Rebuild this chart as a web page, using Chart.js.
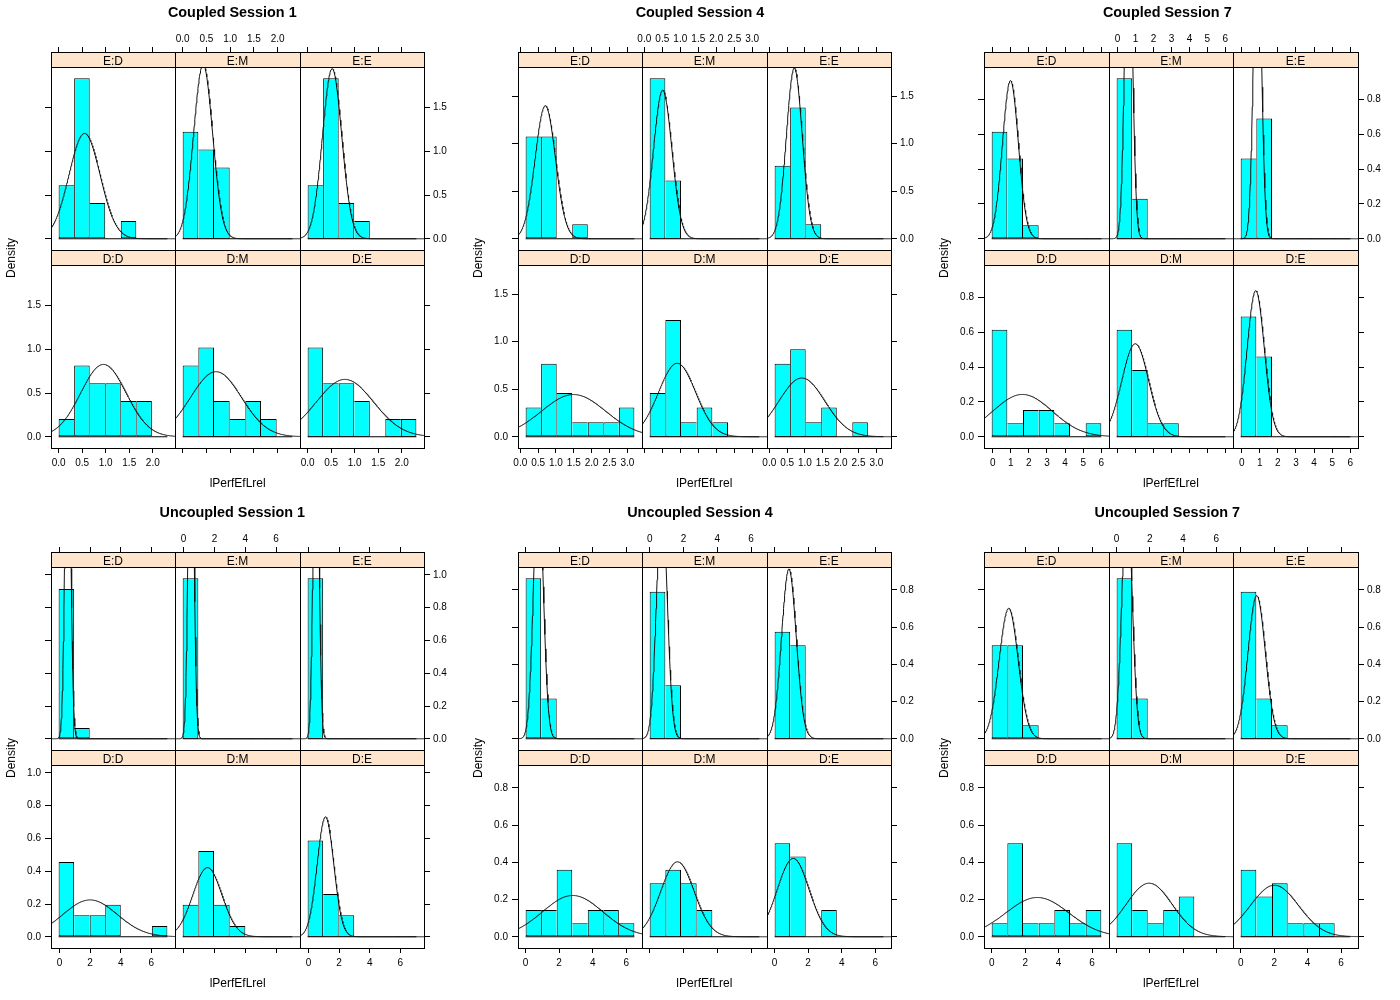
<!DOCTYPE html>
<html>
<head>
<meta charset="utf-8">
<script src="https://cdn.jsdelivr.net/npm/chart.js"></script>
<style>
  html, body { margin: 0; padding: 0; background: #fff; }
  body { width: 1400px; height: 1000px; position: relative; overflow: hidden;
         font-family: 'Liberation Sans', Arial, Helvetica, sans-serif; }
  canvas { position: absolute; }
  .t { position: absolute; white-space: nowrap; line-height: 1; color: #000; }
</style>
</head>
<body>
<script>
// ---------------- data ----------------
const sessionTitles = ['Coupled Session 1', 'Coupled Session 4', 'Coupled Session 7',
                       'Uncoupled Session 1', 'Uncoupled Session 4', 'Uncoupled Session 7'];
const panelNames = ['E:D', 'E:M', 'E:E', 'D:D', 'D:M', 'D:E'];
const xAxisTitle = 'lPerfEfLrel';
const yAxisTitle = 'Density';

// histogram breaks: first break and bin width per session (7 bins each)
const binStart = [0, 0.149, -0.055, -0.06, 0, 0];
const binWidth = [0.33, 0.4355, 0.8654, 1.0157, 0.927, 0.9355];

const xTickLabels = [
  ['0.0', '0.5', '1.0', '1.5', '2.0'],
  ['0.0', '0.5', '1.0', '1.5', '2.0', '2.5', '3.0'],
  ['0', '1', '2', '3', '4', '5', '6'],
  ['0', '2', '4', '6'],
  ['0', '2', '4', '6'],
  ['0', '2', '4', '6']
];
const yTickLabels = [
  ['0.0', '0.5', '1.0', '1.5'],
  ['0.0', '0.5', '1.0', '1.5'],
  ['0.0', '0.2', '0.4', '0.6', '0.8'],
  ['0.0', '0.2', '0.4', '0.6', '0.8', '1.0'],
  ['0.0', '0.2', '0.4', '0.6', '0.8'],
  ['0.0', '0.2', '0.4', '0.6', '0.8']
];

// bar densities, panels in order E:D, E:M, E:E, D:D, D:M, D:E
const densityC1 = [
  [0.612, 1.836, 0.408, 0, 0.204, 0, 0],
  [1.224, 1.02, 0.816, 0, 0, 0, 0],
  [0.612, 1.836, 0.408, 0.204, 0, 0, 0],
  [0.204, 0.816, 0.612, 0.612, 0.408, 0.408, 0],
  [0.816, 1.02, 0.408, 0.204, 0.408, 0.204, 0],
  [1.02, 0.612, 0.612, 0.408, 0, 0.204, 0.204]
];
const densityC4 = [
  [1.075, 1.075, 0, 0.154, 0, 0, 0],
  [1.689, 0.614, 0, 0, 0, 0, 0],
  [0.768, 1.382, 0.154, 0, 0, 0, 0],
  [0.307, 0.768, 0.461, 0.154, 0.154, 0.154, 0.307],
  [0.461, 1.228, 0.154, 0.307, 0.154, 0, 0],
  [0.768, 0.921, 0.154, 0.307, 0, 0.154, 0]
];
const densityC7 = [
  [0.615, 0.461, 0.077, 0, 0, 0, 0],
  [0.922, 0.230, 0, 0, 0, 0, 0],
  [0.461, 0.691, 0, 0, 0, 0, 0],
  [0.615, 0.077, 0.154, 0.154, 0.077, 0, 0.077],
  [0.615, 0.384, 0.077, 0.077, 0, 0, 0],
  [0.691, 0.461, 0, 0, 0, 0, 0]
];
const densityU1 = [
  [0.915, 0.065, 0, 0, 0, 0, 0],
  [0.98, 0, 0, 0, 0, 0, 0],
  [0.98, 0, 0, 0, 0, 0, 0],
  [0.457, 0.131, 0.131, 0.196, 0, 0, 0.065],
  [0.196, 0.523, 0.196, 0.065, 0, 0, 0],
  [0.588, 0.261, 0.131, 0, 0, 0, 0]
];
const densityU4 = [
  [0.863, 0.216, 0, 0, 0, 0, 0],
  [0.791, 0.288, 0, 0, 0, 0, 0],
  [0.575, 0.503, 0, 0, 0, 0, 0],
  [0.144, 0.144, 0.36, 0.072, 0.144, 0.144, 0.072],
  [0.288, 0.36, 0.288, 0.144, 0, 0, 0],
  [0.503, 0.431, 0, 0.144, 0, 0, 0]
];
const densityU7 = [
  [0.503, 0.503, 0.072, 0, 0, 0, 0],
  [0.863, 0.216, 0, 0, 0, 0, 0],
  [0.791, 0.216, 0.072, 0, 0, 0, 0],
  [0.072, 0.503, 0.072, 0.072, 0.144, 0.072, 0.144],
  [0.503, 0.144, 0.072, 0.144, 0.216, 0, 0],
  [0.36, 0.216, 0.288, 0.072, 0.072, 0.072, 0]
];

// fitted normal curves (mean, sd) read from peak position / height
const curveMeanC1 = [0.55, 0.43, 0.52, 0.95, 0.70, 0.79];
const curveSdC1   = [0.331, 0.20, 0.205, 0.482, 0.536, 0.608];
const curveMeanC4 = [0.70, 0.51, 0.70, 1.49, 0.91, 0.91];
const curveSdC4   = [0.285, 0.255, 0.222, 0.898, 0.516, 0.645];
const curveMeanC7 = [0.98, 0.61, 0.87, 1.64, 0.98, 0.775];
const curveSdC7   = [0.439, 0.21, 0.21, 1.641, 0.747, 0.475];
const curveMeanU1 = [0.54, 0.48, 0.49, 1.99, 1.54, 1.105];
const curveSdU1   = [0.175, 0.172, 0.175, 1.773, 0.945, 0.545];
const curveMeanU4 = [0.76, 0.72, 0.85, 2.80, 1.64, 1.105];
const curveSdU4   = [0.29, 0.31, 0.437, 1.797, 0.99, 0.948];
const curveMeanU7 = [1.013, 0.626, 0.954, 2.72, 1.95, 2.01];
const curveSdU7   = [0.569, 0.30, 0.518, 1.889, 1.385, 1.44];

const sessionDensity = [densityC1, densityC4, densityC7, densityU1, densityU4, densityU7];
const sessionMean = [curveMeanC1, curveMeanC4, curveMeanC7, curveMeanU1, curveMeanU4, curveMeanU7];
const sessionSd = [curveSdC1, curveSdC4, curveSdC7, curveSdU1, curveSdU4, curveSdU7];

// ---------------- layout ----------------
const STRIP = 15, PANEL = 183;
const blockLeft = [51, 517.7, 984.3];
const blockTop = [52, 552];
const blockWidth = 373.3;
const titleCenterX = [232.3, 700, 1167.3];
const ML = 40, MR = 40, MT = 24, MB = 24, XT = 5, YT = 6;
const TICK_FONT = 10;

Chart.defaults.font.family = "'Liberation Sans', Arial, Helvetica, sans-serif";
Chart.defaults.color = '#000';

const stripPlugin = {
  id: 'strip',
  afterDatasetsDraw(chart, args, opts) {
    const ctx = chart.ctx, a = chart.chartArea;
    const w = a.right - a.left;
    ctx.save();
    ctx.fillStyle = '#FFE5CC';
    ctx.fillRect(a.left, a.top, w, STRIP);
    ctx.strokeStyle = '#000';
    ctx.lineWidth = 1;
    ctx.strokeRect(a.left + 0.5, a.top + 0.5, w, STRIP);
    ctx.strokeRect(a.left + 0.5, a.top + 0.5, w, a.bottom - a.top);
    ctx.fillStyle = '#000';
    ctx.font = "12px 'Liberation Sans', Arial, sans-serif";
    ctx.textAlign = 'center';
    ctx.textBaseline = 'alphabetic';
    ctx.fillText(opts.label, (a.left + a.right) / 2, a.top + 13.2);
    ctx.restore();
  }
};

function axisOpts(axis, position, min, max, vals, labels, showTicks, showLabels, size, pad) {
  const horiz = axis === 'x';
  return {
    type: 'linear', axis: axis, position: position, min: min, max: max,
    bounds: 'data', offset: false,
    afterBuildTicks: sc => { sc.ticks = vals.map(v => ({ value: v })); },
    afterFit: sc => { if (horiz) sc.height = size; else sc.width = size; },
    grid: { display: showTicks, offset: false, drawOnChartArea: false, drawTicks: true,
            tickLength: horiz ? XT : YT, color: '#000', lineWidth: 1 },
    border: { display: false },
    ticks: { display: showLabels, autoSkip: false, maxRotation: 0, minRotation: 0,
             padding: pad, color: '#000', font: { size: TICK_FONT },
             callback: (v, i) => labels[i] }
  };
}

function dnorm(x, m, s) {
  return Math.exp(-((x - m) * (x - m)) / (2 * s * s)) / (s * Math.sqrt(2 * Math.PI));
}

function makePanel(si, pi) {
  const densAll = sessionDensity[si];
  const dens = densAll[pi];
  const col = pi % 3, row = pi < 3 ? 0 : 1;
  const L = blockLeft[si % 3], T = blockTop[Math.floor(si / 3)];
  const xs = [0, 1, 2, 3].map(k => Math.round(L + k * blockWidth / 3));
  const px = xs[col], pw = xs[col + 1] - xs[col];
  const py = T + row * (STRIP + PANEL);

  const W = pw + ML + MR, H = STRIP + PANEL + MT + MB;
  const canvas = document.createElement('canvas');
  canvas.width = W; canvas.height = H;
  canvas.style.left = (px - ML) + 'px';
  canvas.style.top = (py - MT) + 'px';
  canvas.style.width = W + 'px';
  canvas.style.height = H + 'px';
  document.body.appendChild(canvas);

  // lattice-style limits: 7% padding around data range
  const R = Math.max(...densAll.map(d => Math.max(...d)));
  const ylo = -0.07 * R, yhi = 1.07 * R;
  const yTop = yhi + (yhi - ylo) * STRIP / PANEL;
  const b0 = binStart[si], bw = binWidth[si], nb = dens.length;
  const bEnd = b0 + nb * bw;
  const xr = bEnd - b0;
  const xlo = b0 - 0.07 * xr, xhi = bEnd + 0.07 * xr;

  const xLabels = xTickLabels[si], yLabels = yTickLabels[si];
  const xt = xLabels.map(Number), yt = yLabels.map(Number);

  const bars = dens.map((d, i) => ({ x: b0 + (i + 0.5) * bw, y: d }));
  const m = sessionMean[si][pi], s = sessionSd[si][pi];
  const curve = [];
  for (let k = 0; k <= 240; k++) {
    const x = xlo + (xhi - xlo) * k / 240;
    curve.push({ x: x, y: dnorm(x, m, s) });
  }

  new Chart(canvas, {
    type: 'bar',
    data: {
      datasets: [
        { type: 'line', data: curve, borderColor: '#111', borderWidth: 1, pointRadius: 0,
          fill: false, tension: 0, order: 0 },
        { type: 'line', data: [{ x: b0, y: 0 }, { x: bEnd, y: 0 }], borderColor: '#000',
          borderWidth: 1, pointRadius: 0, fill: false, order: 1 },
        { type: 'bar', data: bars, backgroundColor: '#00FFFF', borderColor: '#000',
          borderSkipped: false, barPercentage: 1, categoryPercentage: 1, inflateAmount: 0,
          borderWidth: c => {
            const i = c.dataIndex, h = dens[i];
            const prev = i > 0 ? dens[i - 1] : 0, next = i < nb - 1 ? dens[i + 1] : 0;
            return { top: 1, bottom: 1, left: prev <= h ? 1 : 0, right: next < h ? 1 : 0 };
          },
          order: 2 }
      ]
    },
    options: {
      responsive: false, maintainAspectRatio: false, animation: false, devicePixelRatio: 1,
      events: [],
      layout: { padding: 0 },
      plugins: { legend: { display: false }, tooltip: { enabled: false }, title: { display: false },
                 strip: { label: panelNames[pi] } },
      scales: {
        x:  axisOpts('x', 'bottom', xlo, xhi, xt, xLabels, row === 1, row === 1 && col !== 1, MB, 4),
        x2: axisOpts('x', 'top', xlo, xhi, xt, xLabels, row === 0, row === 0 && col === 1, MT, 2),
        y:  axisOpts('y', 'left', ylo, yTop, yt, yLabels, col === 0, col === 0 && row === 1, ML, 4),
        y2: axisOpts('y', 'right', ylo, yTop, yt, yLabels, col === 2, col === 2 && row === 0, MR, 3)
      }
    },
    plugins: [stripPlugin]
  });
}

function addText(txt, x, y, css, rotate) {
  const d = document.createElement('div');
  d.className = 't';
  d.textContent = txt;
  d.style.left = x + 'px';
  d.style.top = y + 'px';
  d.style.cssText += css;
  d.style.transform = 'translate(-50%, -50%)' + (rotate ? ' rotate(-90deg)' : '');
  document.body.appendChild(d);
}

for (let si = 0; si < 6; si++) {
  const c = si % 3, r = Math.floor(si / 3);
  const L = blockLeft[c], T = blockTop[r];
  for (let pi = 0; pi < 6; pi++) makePanel(si, pi);
  const dy = r * 500;
  addText(sessionTitles[si], titleCenterX[c], 11.7 + dy, 'font-size:14.4px;font-weight:bold;');
  addText(xAxisTitle, L + blockWidth / 2, 483 + dy, 'font-size:12px;');
  addText(yAxisTitle, L - 40, 258 + dy, 'font-size:12px;', true);
}
</script>
</body>
</html>
